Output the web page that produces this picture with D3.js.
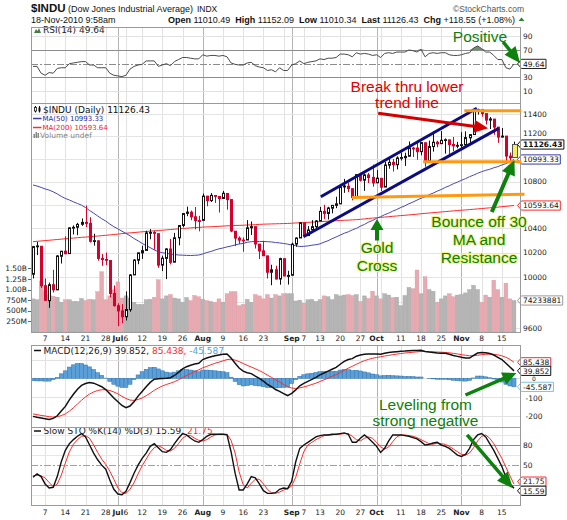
<!DOCTYPE html>
<html>
<head>
<meta charset="utf-8">
<script src="https://d3js.org/d3.v7.min.js"></script>
<style>
  body { margin: 0; background: #fff; }
  svg { display: block; font-family: "DejaVu Sans", Verdana, sans-serif; }
  .grid { shape-rendering: crispEdges; }
  .note { font-family: "Liberation Sans", Arial, sans-serif; font-size: 15.5px; }
</style>
</head>
<body>
<svg id="chart"></svg>
<script>
// ---- data (daily bars, 2 Jun - 18 Nov 2010) ----
const dates = [
  "2010-06-02","2010-06-03","2010-06-04","2010-06-07","2010-06-08","2010-06-09","2010-06-10","2010-06-11","2010-06-14","2010-06-15","2010-06-16","2010-06-17","2010-06-18","2010-06-21","2010-06-22","2010-06-23","2010-06-24","2010-06-25","2010-06-28","2010-06-29","2010-06-30",
  "2010-07-01","2010-07-02","2010-07-06","2010-07-07","2010-07-08","2010-07-09","2010-07-12","2010-07-13","2010-07-14","2010-07-15","2010-07-16","2010-07-19","2010-07-20","2010-07-21","2010-07-22","2010-07-23","2010-07-26","2010-07-27","2010-07-28","2010-07-29","2010-07-30",
  "2010-08-02","2010-08-03","2010-08-04","2010-08-05","2010-08-06","2010-08-09","2010-08-10","2010-08-11","2010-08-12","2010-08-13","2010-08-16","2010-08-17","2010-08-18","2010-08-19","2010-08-20","2010-08-23","2010-08-24","2010-08-25","2010-08-26","2010-08-27","2010-08-30","2010-08-31",
  "2010-09-01","2010-09-02","2010-09-03","2010-09-07","2010-09-08","2010-09-09","2010-09-10","2010-09-13","2010-09-14","2010-09-15","2010-09-16","2010-09-17","2010-09-20","2010-09-21","2010-09-22","2010-09-23","2010-09-24","2010-09-27","2010-09-28","2010-09-29","2010-09-30",
  "2010-10-01","2010-10-04","2010-10-05","2010-10-06","2010-10-07","2010-10-08","2010-10-11","2010-10-12","2010-10-13","2010-10-14","2010-10-15","2010-10-18","2010-10-19","2010-10-20","2010-10-21","2010-10-22","2010-10-25","2010-10-26","2010-10-27","2010-10-28","2010-10-29",
  "2010-11-01","2010-11-02","2010-11-03","2010-11-04","2010-11-05","2010-11-08","2010-11-09","2010-11-10","2010-11-11","2010-11-12","2010-11-15","2010-11-16","2010-11-17","2010-11-18"
];
const opens = [
  10024,10248,10252,9932,9813,9940,9899,10170,10212,10192,10403,10410,10435,10452,10443,10294,10297,10153,10144,10135,9870,
  9773,9733,9687,9743,10019,10138,10198,10218,10363,10366,10356,10098,10153,10230,10122,10322,10425,10527,10537,10498,10466,
  10468,10674,10636,10679,10671,10654,10697,10644,10377,10320,10303,10304,10406,10415,10270,10214,10173,10040,10060,9986,10150,10007,
  10016,10270,10321,10446,10341,10389,10415,10463,10544,10526,10571,10595,10608,10753,10759,10738,10664,10860,10812,10857,10836,
  10789,10828,10752,10943,10968,10947,11006,11009,11022,11094,11095,11063,11142,10979,11108,11147,11134,11163,11168,11127,11113,
  11120,11125,11187,11216,11435,11443,11406,11347,11356,11283,11193,11202,11023,11010.49
];
const highs = [
  10255,10288,10253,9990,9957,10060,10180,10214,10335,10410,10426,10447,10484,10594,10494,10356,10300,10189,10201,10137,9934,
  9793,9786,9887,10025,10146,10199,10256,10381,10395,10382,10358,10175,10236,10313,10363,10428,10526,10584,10551,10581,10506,
  10696,10674,10700,10680,10673,10719,10698,10645,10377,10334,10325,10470,10458,10415,10271,10297,10174,10101,10093,10158,10150,10052,
  10281,10326,10451,10446,10420,10470,10470,10582,10600,10583,10597,10669,10770,10823,10788,10740,10863,10876,10870,10875,10948,
  10900,10829,10973,10999,10998,11021,11054,11053,11154,11105,11142,11149,11142,11161,11245,11160,11247,11181,11169,11194,11150,
  11237,11245,11218,11445,11452,11444,11409,11375,11357,11283,11275,11202,11055,11152.09
];
const lows = [
  9990,10180,9914,9812,9757,9878,9899,10111,10187,10192,10350,10344,10422,10412,10283,10257,10134,10092,10099,9840,9767,
  9614,9636,9658,9726,10019,10105,10148,10218,10310,10224,10076,10050,9985,10104,10122,10260,10410,10503,10469,10392,10376,
  10468,10587,10624,10616,10534,10654,10558,10369,10254,10271,10207,10304,10346,10234,10147,10174,9990,9936,9982,9940,10009,9941,
  10016,10248,10321,10330,10341,10389,10396,10463,10480,10475,10527,10571,10608,10702,10708,10638,10664,10800,10719,10787,10755,
  10789,10718,10752,10912,10887,10906,10984,10936,11022,11015,10991,11030,10929,10979,11063,11102,11134,11045,11027,11066,11093,
  11091,11125,11120,11216,11398,11378,11307,11266,11214,11142,11189,10980,10978,11010.34
];
const closes = [
  10249.54,10255.28,9931.97,9816.49,9939.98,9899.25,10172.53,10211.07,10190.89,10404.77,10409.46,10434.17,10450.64,10442.41,10293.52,10298.44,10152.80,10143.81,10138.52,9870.30,9774.02,
  9732.53,9686.48,9743.62,10018.28,10138.99,10198.03,10216.27,10363.02,10366.72,10359.31,10097.90,10154.43,10229.96,10120.53,10322.30,10424.62,10525.43,10537.69,10497.88,10467.16,10465.94,
  10674.38,10636.38,10680.43,10674.98,10653.56,10698.75,10644.25,10378.83,10319.95,10303.15,10302.01,10405.85,10415.54,10271.21,10213.62,10174.41,10040.45,10060.06,9985.81,10150.65,10009.73,10014.72,
  10269.47,10320.10,10447.93,10340.69,10387.01,10415.24,10462.77,10544.13,10526.49,10572.73,10594.83,10607.85,10753.62,10761.03,10739.31,10662.42,10860.26,10812.04,10858.14,10835.28,10788.05,
  10829.68,10751.27,10944.72,10967.65,10948.58,11006.48,11010.34,11020.40,11096.08,11094.57,11062.78,11143.69,10978.62,11107.97,11146.57,11132.56,11164.05,11169.46,11126.28,11113.95,11118.49,
  11124.62,11188.72,11215.13,11434.84,11444.08,11406.84,11346.75,11357.04,11283.10,11192.58,11201.97,11023.50,11007.88,11126.43
];
// volume in millions of shares
const volumes = [
  780,760,1200,950,860,840,820,700,760,760,720,720,790,740,770,760,950,1420,760,850,1000,
  1180,800,850,800,700,650,650,760,770,820,1230,780,850,880,800,780,700,810,740,860,830,
  770,740,720,700,780,700,900,950,950,620,650,770,700,880,850,780,880,800,880,850,900,900,
  900,730,750,680,760,770,720,760,850,830,760,880,850,870,880,860,880,720,850,790,960,
  850,780,900,870,810,820,620,860,1050,1020,1460,900,1300,1000,960,700,780,850,900,830,870,
  880,920,1000,1100,1000,700,870,820,1220,1000,820,1150,780,742
];
const ma50 = [
  10770,10761,10749,10736,10726,10711,10693,10672,10654,10641,10625,10611,10597,10576,10551,10529,10505,10482,10462,10437,10415,
  10397,10377,10359,10339,10316,10297,10276,10257,10241,10222,10207,10199,10194,10188,10185,10180,10179,10177,10176,10178,10180,
  10189,10201,10209,10221,10231,10238,10247,10254,10263,10271,10276,10285,10290,10292,10291,10292,10290,10288,10283,10280,10275,10270,
  10262,10257,10250,10252,10255,10261,10265,10272,10286,10298,10315,10329,10345,10360,10372,10388,10401,10419,10434,10453,10467,
  10485,10499,10516,10529,10546,10560,10577,10591,10609,10623,10640,10656,10669,10686,10700,10717,10731,10749,10763,10781,10795,
  10811,10825,10842,10856,10872,10886,10898,10907,10920,10930,10945,10957,10973,10993.33
];
const ma200 = [
  10290,10293,10296,10299,10302,10305,10308,10311,10314,10317,10320,10323,10326,10328,10331,10334,10337,10340,10343,10346,10350,
  10353,10357,10360,10363,10366,10369,10372,10375,10378,10380,10383,10385,10388,10391,10394,10397,10400,10402,10405,10407,10409,
  10411,10413,10414,10416,10418,10420,10422,10423,10425,10426,10427,10429,10430,10432,10434,10436,10437,10438,10439,10440,10441,10442,
  10444,10446,10448,10449,10451,10453,10455,10457,10459,10461,10463,10465,10467,10469,10470,10472,10474,10477,10480,10484,10487,
  10490,10493,10496,10499,10502,10505,10508,10511,10514,10517,10520,10524,10527,10530,10533,10536,10539,10542,10545,10548,10551,
  10554,10556,10559,10562,10565,10568,10571,10574,10577,10580,10584,10587,10590,10593.64
];
const rsi14 = [
  46,46,36,33,37,36,43,44,44,50,51,52,53,53,48,48,44,44,44,36,33,
  32,31,33,42,46,48,49,54,54,54,46,48,50,47,53,56,59,59,58,57,57,
  63,61,62,62,61,62,60,51,49,48,48,51,52,47,45,44,40,41,38,44,40,40,
  48,50,54,50,52,53,54,57,56,58,58,59,64,64,63,60,66,64,65,64,62,
  63,59,65,66,65,67,67,67,70,69,67,71,60,65,66,65,66,66,63,62,62,
  63,65,66,73,76,72,67,67,62,56,56,44,42,49.64
];
const macdLine = [
  -203,-208,-212,-216,-220,-214,-200,-175,-150,-115,-85,-58,-38,-28,-23,-26,-35,-45,-60,-82,-105,
  -125,-145,-157,-148,-125,-95,-70,-45,-22,-5,-2,-1,0,3,15,32,50,62,70,76,80,
  100,108,115,120,124,128,130,108,80,55,38,30,25,12,0,-15,-32,-45,-60,-70,-82,-92,
  -80,-62,-40,-27,-16,-6,5,18,28,38,48,58,75,90,100,105,118,124,128,130,130,
  130,128,134,138,140,142,144,145,147,148,148,150,143,140,138,135,134,133,128,122,117,
  112,108,108,122,135,138,136,132,124,112,100,80,60,39.852
];
const macdSignal = [
  -190,-194,-198,-201,-205,-207,-205,-199,-190,-175,-157,-137,-117,-99,-84,-73,-65,-61,-61,-65,-73,
  -83,-96,-108,-116,-118,-113,-105,-93,-79,-64,-52,-41,-33,-26,-18,-8,4,15,26,36,45,
  56,64,72,80,86,93,100,102,97,89,79,69,60,51,41,30,17,5,-8,-20,-33,-45,
  -52,-54,-51,-46,-40,-33,-26,-17,-8,1,11,20,31,43,54,64,75,85,94,101,107,
  111,115,119,122,126,129,132,135,137,139,141,143,143,142,141,140,139,138,136,133,130,
  126,123,120,120,123,126,128,129,128,125,120,112,101,85.438
];
const macdHist = [
  -13,-14,-14,-15,-15,-7,5,24,40,60,72,79,79,71,61,47,30,16,1,-17,-32,
  -42,-49,-49,-32,-7,18,35,48,57,59,50,40,33,29,33,40,46,47,44,40,35,
  44,44,43,40,38,35,30,6,-17,-34,-41,-39,-35,-39,-41,-45,-49,-50,-52,-50,-49,-47,
  -28,-8,11,19,24,27,31,35,36,37,37,38,44,47,46,41,43,39,34,29,23,
  19,13,15,16,14,13,12,10,10,9,7,7,0,-2,-3,-5,-5,-5,-8,-11,-13,
  -14,-15,-12,2,12,12,8,3,-4,-13,-20,-32,-41,-45.587
];
const stoK = [
  32,37,33,22,16,17,33,55,72,82,88,93,97,92,80,68,58,50,44,28,14,
  7,6,11,24,38,50,60,68,78,82,76,70,69,73,82,90,97,95,90,86,84,
  88,93,96,96,96,96,95,70,38,13,13,22,33,31,22,12,8,8,9,14,16,15,
  26,55,75,80,84,88,92,94,95,95,96,96,97,98,96,84,84,90,95,90,84,
  78,69,75,86,95,95,95,94,93,91,89,85,80,81,83,84,80,78,75,70,65,
  63,66,75,88,95,97,92,82,72,60,48,32,22,15.59
];
const stoD = [
  34,35,34,31,24,18,22,35,53,70,81,88,93,94,90,80,69,59,51,41,29,
  16,9,8,14,24,37,49,59,69,76,79,76,72,71,75,82,90,94,94,90,87,
  86,88,92,95,96,96,96,87,68,40,21,16,23,29,29,22,14,9,8,10,13,15,
  19,32,52,70,80,84,88,91,94,95,95,96,96,97,97,93,88,86,90,92,90,
  84,77,74,77,85,92,95,95,94,93,91,88,85,82,81,83,82,81,78,74,70,
  66,65,68,76,86,93,95,90,82,71,60,47,34,21.75
];

// weekly date ticks (month starts are labelled with the month name)
const tickDates = ["2010-06-07","2010-06-14","2010-06-21","2010-06-28","2010-07-01","2010-07-06","2010-07-12","2010-07-19","2010-07-26",
  "2010-08-02","2010-08-09","2010-08-16","2010-08-23","2010-08-30","2010-09-01","2010-09-07","2010-09-13","2010-09-20","2010-09-27",
  "2010-10-01","2010-10-04","2010-10-11","2010-10-18","2010-10-25","2010-11-01","2010-11-08","2010-11-15"];
const tickLabels = ["7","14","21","28","Jul","6","12","19","26","Aug","9","16","23","","Sep","7","13","20","27","Oct","","11","18","25","Nov","8","15"];
const monthLabels = ["Jul","Aug","Sep","Oct","Nov"];

const priceTicks = [9600, 9800, 10000, 10200, 10400, 10600, 10800, 11000, 11200, 11400];
const volTicks = [250, 500, 750, 1000, 1250, 1500];
const volTickLabels = ["250M", "500M", "750M", "1.00B", "1.25B", "1.50B"];
const rsiTicks = [10, 30, 50, 70, 90];
const macdTicks = [-200, -100, 0, 100];
const stoTicks = [20, 50, 80];

const headerQuote = { open: "11010.49", high: "11152.09", low: "11010.34", last: "11126.43", chg: "+118.55 (+1.08%)" };
const lastVolumeLabel = "74233881";

// hand-drawn markup, in data coordinates (bar index, value)
const channelUpper = [[71.2, 10669], [109.8, 11455]];
const channelLower = [[66.9, 10331], [115.2, 11272]];
const orangeLines = [[[106.7, 11432], [120.8, 11432]], [[96.5, 10973], [120.8, 10973]], [[78.9, 10662], [121.6, 10690]]];

class IndexChart {

  constructor(_config) {
    this.config = {
      parentElement: _config.parentElement,
      containerWidth: _config.containerWidth || 567,
      containerHeight: _config.containerHeight || 520,
      left: 31,
      right: 520,
      panels: { rsi: [26.5, 103], price: [103, 332], macd: [345, 427], sto: [427, 505] }
    };
    this.initVis();
  }

  initVis() {
    let vis = this;

    vis.svg = d3.select(vis.config.parentElement)
        .attr('width', vis.config.containerWidth)
        .attr('height', vis.config.containerHeight);

    // one x position per trading day
    vis.xScale = d3.scaleLinear().domain([0, dates.length - 1]).range([33, 514]);

    vis.rsiScale = d3.scaleLinear().domain([30, 70]).range([77.3, 50]);
    vis.priceScale = d3.scaleLog().domain([9600, 11400]).range([328, 114.3]);
    vis.volScale = d3.scaleLinear().domain([0, 1500]).range([332, 268.3]);
    vis.macdScale = d3.scaleLinear().domain([-200, 0]).range([415.8, 378.3]);
    vis.stoScale = d3.scaleLinear().domain([20, 80]).range([485.3, 445]);

    vis.tickIdx = tickDates.map(d => dates.indexOf(d) >= 0 ? dates.indexOf(d) : null);

    const defs = vis.svg.append('defs');
    Object.entries(vis.config.panels).forEach(([k, [t, b]]) => {
      defs.append('clipPath').attr('id', 'clip-' + k)
        .append('rect').attr('x', vis.config.left).attr('y', t)
        .attr('width', vis.config.right - vis.config.left).attr('height', b - t);
    });

    vis.renderVis();
  }

  renderVis() {
    let vis = this;
    vis.drawHeader();
    vis.drawGrid();
    vis.drawRsi();
    vis.drawPrice();
    vis.drawMacd();
    vis.drawSto();
    vis.drawFrames();
    vis.drawDateAxis(341);
    vis.drawDateAxis(515);
    vis.drawNotes();
  }

  hline(g, y, color, dash) {
    let vis = this;
    const yy = Math.round(y) + 0.5;
    g.append('line').attr('class', 'grid')
      .attr('x1', vis.config.left).attr('x2', vis.config.right)
      .attr('y1', yy).attr('y2', yy)
      .attr('stroke', color).attr('stroke-dasharray', dash || null);
  }

  drawGrid() {
    let vis = this;
    const g = vis.svg.append('g');
    Object.values(vis.config.panels).forEach(([t, b]) => {
      tickDates.forEach((d, k) => {
        const xx = Math.round(vis.xScale(vis.tickIdx[k])) + 0.5;
        g.append('line').attr('class', 'grid')
          .attr('x1', xx).attr('x2', xx).attr('y1', t).attr('y2', b)
          .attr('stroke', monthLabels.includes(tickLabels[k]) ? '#b4b4b4' : '#e2e2e2');
      });
    });
    priceTicks.forEach(p => vis.hline(g, vis.priceScale(p), '#e4e4e4'));
    vis.hline(g, vis.rsiScale(10), '#e2e2e2');
    vis.hline(g, vis.rsiScale(90), '#e2e2e2');
    vis.hline(g, vis.rsiScale(70), '#8c8c8c');
    vis.hline(g, vis.rsiScale(30), '#8c8c8c');
    vis.hline(g, vis.rsiScale(50), '#8c8c8c', '7,2,2,2');
    macdTicks.forEach(v => vis.hline(g, vis.macdScale(v), '#e2e2e2'));
    [5, 35, 65, 95].forEach(v => vis.hline(g, vis.stoScale(v), '#e6e6e6'));
    vis.hline(g, vis.stoScale(80), '#8c8c8c');
    vis.hline(g, vis.stoScale(20), '#8c8c8c');
    vis.hline(g, vis.stoScale(50), '#a0a0a0', '7,2,2,2');
  }

  drawFrames() {
    let vis = this;
    const g = vis.svg.append('g');
    Object.values(vis.config.panels).forEach(([t, b]) => {
      g.append('rect').attr('class', 'grid')
        .attr('x', vis.config.left + 0.5).attr('y', Math.round(t) + 0.5)
        .attr('width', vis.config.right - vis.config.left).attr('height', Math.round(b) - Math.round(t))
        .attr('fill', 'none').attr('stroke', '#9a9a9a');
    });
  }

  tag(y, label, color, bold) {
    const grp = this.svg.append('g');
    const path = grp.append('path').attr('fill', '#fff').attr('stroke', color).attr('stroke-width', 1);
    const txt = grp.append('text').attr('x', 523).attr('y', y + 2.8)
      .attr('font-size', 7.5).attr('font-weight', bold ? 'bold' : 'normal').attr('fill', '#111').text(label);
    const w = txt.node().getComputedTextLength();
    const h = 4.6;
    path.attr('d', `M517.5,${y} L521.5,${y - h} H${523 + w + 1.5} V${y + h} H521.5 Z`);
  }

  // right-hand tick labels; labels that would sit under a value tag are left out, as in the reference.
  // A label squeezed between two tags is set smaller in the gap; one next to a single tag is nudged clear.
  axisLabels(values, scale, tagYs, anchor) {
    const g = this.svg.append('g').attr('font-size', 7.5).attr('fill', '#222');
    values.forEach(v => {
      let y = scale(v), size = 7.5;
      const ts = tagYs || [];
      if (ts.some(t => Math.abs(y - t) < 6.5)) return;
      const above = ts.filter(t => t < y && y - t < 11), below = ts.filter(t => t > y && t - y < 11);
      if (above.length && below.length) {
        y = (d3.max(above) + d3.min(below)) / 2;
        size = 6;
      } else {
        above.forEach(t => { y += 11 - (y - t); });
        below.forEach(t => { y -= 11 - (t - y); });
      }
      g.append('text').attr('x', anchor === 'middle' ? 534 : 523).attr('y', y + size * 0.36)
        .attr('font-size', size).attr('text-anchor', anchor || 'start').text(v);
    });
  }

  drawHeader() {
    let vis = this;
    const t1 = vis.svg.append('text').attr('x', 31).attr('y', 11.5)
      .attr('font-family', '"Liberation Sans", Arial, sans-serif').attr('fill', '#111');
    t1.append('tspan').attr('font-weight', 'bold').attr('font-size', 11.5).text('$INDU');
    t1.append('tspan').attr('font-size', 9).text(' (Dow Jones Industrial Average)');
    t1.append('tspan').attr('font-size', 8.5).attr('dx', 4).text('INDX');
    vis.svg.append('text').attr('x', 524).attr('y', 11.5).attr('text-anchor', 'end')
      .attr('font-family', '"Liberation Sans", Arial, sans-serif').attr('font-size', 8.5).attr('fill', '#555')
      .text('\u00a9StockCharts.com');

    vis.svg.append('text').attr('x', 31).attr('y', 22.5)
      .attr('font-family', '"Liberation Sans", Arial, sans-serif').attr('font-size', 9).attr('fill', '#111')
      .text('18-Nov-2010 9:58am');
    const t2 = vis.svg.append('text').attr('x', 515).attr('y', 22.5).attr('text-anchor', 'end')
      .attr('font-family', '"Liberation Sans", Arial, sans-serif').attr('font-size', 9).attr('fill', '#111');
    [['Open', headerQuote.open], ['High', headerQuote.high], ['Low', headerQuote.low],
     ['Last', headerQuote.last], ['Chg', headerQuote.chg]].forEach(([k, v], n) => {
      t2.append('tspan').attr('font-weight', 'bold').attr('dx', n ? 5 : 0).text(k);
      t2.append('tspan').text(' ' + v);
    });
    vis.svg.append('path').attr('d', 'M518.5,21 L521.5,17.5 L524.5,21 Z').attr('fill', '#2a8a2a');
  }

  drawRsi() {
    let vis = this;
    const last = rsi14.length - 1;
    const g = vis.svg.append('g').attr('clip-path', 'url(#clip-rsi)');
    const x = (d, i) => vis.xScale(i);
    g.append('path').datum(rsi14)
      .attr('d', d3.area().x(x).y0(vis.rsiScale(70)).y1(v => vis.rsiScale(Math.max(v, 70))))
      .attr('fill', '#6f8f6f');
    g.append('path').datum(rsi14)
      .attr('d', d3.area().x(x).y0(vis.rsiScale(30)).y1(v => vis.rsiScale(Math.min(v, 30))))
      .attr('fill', '#6f8f6f');
    g.append('path').datum(rsi14)
      .attr('d', d3.line().x(x).y(v => vis.rsiScale(v)))
      .attr('fill', 'none').attr('stroke', '#4a4a4a').attr('stroke-width', 1);

    const tagY = vis.rsiScale(rsi14[last]);
    vis.axisLabels(rsiTicks, vis.rsiScale, [tagY]);
    vis.tag(tagY, String(rsi14[last]), '#222');

    // legend
    vis.svg.append('path').attr('d', 'M34,33 L36,29 L37.5,31 L39,28 L41,33 Z').attr('fill', '#4b7a4b');
    vis.svg.append('text').attr('x', 43).attr('y', 32.8).attr('font-size', 9).attr('fill', '#222')
      .text(`RSI(14) ${rsi14[last]}`);
  }

  drawPrice() {
    let vis = this;
    const last = dates.length - 1;
    const g = vis.svg.append('g').attr('clip-path', 'url(#clip-price)');

    // volume first, so it sits behind the candles
    g.selectAll('.vol').data(volumes).join('rect')
      .attr('class', 'vol')
      .attr('x', (d, i) => vis.xScale(i) - 1.9)
      .attr('width', 3.8)
      .attr('y', d => vis.volScale(d))
      .attr('height', d => vis.volScale(0) - vis.volScale(d))
      .attr('fill', (d, i) => (i > 0 && closes[i] < closes[i - 1]) ? '#e8aab1' : '#b5b5b5')
      .attr('stroke', (d, i) => (i > 0 && closes[i] < closes[i - 1]) ? '#dc98a0' : '#a2a2a2')
      .attr('stroke-width', 0.4);

    const line = arr => d3.line().x((d, i) => vis.xScale(i)).y(d => vis.priceScale(d))(arr);
    g.append('path').attr('d', line(ma200)).attr('fill', 'none').attr('stroke', '#ff2a2a').attr('stroke-width', 1);
    g.append('path').attr('d', line(ma50)).attr('fill', 'none').attr('stroke', '#4848b0').attr('stroke-width', 1);

    const bars = closes.map((c, i) => ({ i, o: opens[i], h: highs[i], l: lows[i], c, prev: i ? closes[i - 1] : opens[i] }));
    const colorOf = d => d.c < d.prev ? '#d5002b' : '#111';
    const cg = g.selectAll('.candle').data(bars).join('g').attr('class', 'candle');
    cg.append('line')
      .attr('x1', d => Math.round(vis.xScale(d.i)) + 0.5).attr('x2', d => Math.round(vis.xScale(d.i)) + 0.5)
      .attr('y1', d => vis.priceScale(d.h)).attr('y2', d => vis.priceScale(d.l))
      .attr('stroke', colorOf).attr('stroke-width', 1);
    cg.append('rect')
      .attr('x', d => Math.round(vis.xScale(d.i)) - (d.i === last ? 2 : 1) + 0.5)
      .attr('width', d => d.i === last ? 5 : 2)
      .attr('y', d => vis.priceScale(Math.max(d.o, d.c)))
      .attr('height', d => Math.max(0.8, vis.priceScale(Math.min(d.o, d.c)) - vis.priceScale(Math.max(d.o, d.c))))
      .attr('fill', d => d.i === last ? '#f6f05a' : (d.c < d.o ? colorOf(d) : '#fff'))
      .attr('stroke', d => d.i === last ? '#555' : colorOf(d))
      .attr('stroke-width', 1);

    // right axis and value tags
    const tagYs = [vis.priceScale(ma50[last]), vis.priceScale(ma200[last]), vis.volScale(volumes[last]), vis.priceScale(closes[last])];
    vis.axisLabels(priceTicks, vis.priceScale, tagYs);
    vis.tag(tagYs[0], ma50[last].toFixed(2), '#3a3aa8');
    vis.tag(tagYs[1], ma200[last].toFixed(2), '#ff2a2a');
    vis.tag(tagYs[2], lastVolumeLabel, '#9a9a9a');
    vis.tag(tagYs[3], closes[last].toFixed(2), '#111', true);

    // volume axis on the left
    const vg = vis.svg.append('g').attr('font-size', 7.5).attr('fill', '#222');
    volTicks.forEach((v, k) => {
      vg.append('text').attr('x', 27).attr('y', vis.volScale(v) + 2.7).attr('text-anchor', 'end').text(volTickLabels[k]);
      vg.append('line').attr('class', 'grid').attr('x1', 27.5).attr('x2', 31)
        .attr('y1', Math.round(vis.volScale(v)) + 0.5).attr('y2', Math.round(vis.volScale(v)) + 0.5).attr('stroke', '#666');
    });

    // legend
    const lg = vis.svg.append('g');
    lg.append('line').attr('x1', 35.5).attr('x2', 35.5).attr('y1', 106).attr('y2', 112.5).attr('stroke', '#111');
    lg.append('rect').attr('x', 34.5).attr('y', 107.5).attr('width', 2).attr('height', 3.5).attr('fill', '#fff').attr('stroke', '#111').attr('stroke-width', 0.8);
    lg.append('line').attr('x1', 39.5).attr('x2', 39.5).attr('y1', 106).attr('y2', 112.5).attr('stroke', '#111');
    lg.append('rect').attr('x', 38.5).attr('y', 107.5).attr('width', 2).attr('height', 4).attr('fill', '#111');
    lg.append('text').attr('x', 43).attr('y', 112.6).attr('font-size', 9).attr('fill', '#111')
      .text(`$INDU (Daily) ${closes[last].toFixed(2)}`);
    lg.append('line').attr('x1', 33).attr('x2', 41.5).attr('y1', 118.5).attr('y2', 118.5).attr('stroke', '#3a3aa8').attr('stroke-width', 1.5);
    lg.append('text').attr('x', 42.5).attr('y', 121).attr('font-size', 7).attr('fill', '#2a2aa0')
      .text(`MA(50) ${ma50[last].toFixed(2)}`);
    lg.append('line').attr('x1', 33).attr('x2', 41.5).attr('y1', 127.5).attr('y2', 127.5).attr('stroke', '#ff2a2a').attr('stroke-width', 1.5);
    lg.append('text').attr('x', 42.5).attr('y', 130).attr('font-size', 7).attr('fill', '#ee2222')
      .text(`MA(200) ${ma200[last].toFixed(2)}`);
    [[33.5, 4], [35.5, 6], [37.5, 5]].forEach(([bx, bh]) => {
      lg.append('rect').attr('x', bx).attr('y', 138 - bh).attr('width', 1.5).attr('height', bh).attr('fill', '#888');
    });
    lg.append('text').attr('x', 40).attr('y', 138.3).attr('font-size', 7.5).attr('fill', '#888').text('Volume undef');
  }

  drawMacd() {
    let vis = this;
    const last = dates.length - 1;
    const g = vis.svg.append('g').attr('clip-path', 'url(#clip-macd)');
    const zero = vis.macdScale(0);
    g.selectAll('.hist').data(macdHist).join('rect')
      .attr('class', 'hist')
      .attr('x', (d, i) => vis.xScale(i) - 2)
      .attr('width', 4)
      .attr('y', d => Math.min(zero, vis.macdScale(d)))
      .attr('height', d => Math.abs(vis.macdScale(d) - zero))
      .attr('fill', '#5a9fd8').attr('stroke', '#2f73b0').attr('stroke-width', 0.5);
    const line = arr => d3.line().x((d, i) => vis.xScale(i)).y(d => vis.macdScale(d))(arr);
    g.append('path').attr('d', line(macdSignal)).attr('fill', 'none').attr('stroke', '#ff2a2a').attr('stroke-width', 1);
    g.append('path').attr('d', line(macdLine)).attr('fill', 'none').attr('stroke', '#111').attr('stroke-width', 1.5);

    const tagYs = [vis.macdScale(macdSignal[last]), vis.macdScale(macdLine[last]), vis.macdScale(macdHist[last])];
    vis.axisLabels(macdTicks, vis.macdScale, tagYs, 'middle');
    vis.tag(tagYs[0], macdSignal[last].toFixed(3), '#ff2a2a');
    vis.tag(tagYs[1], macdLine[last].toFixed(3), '#111');
    vis.tag(tagYs[2], macdHist[last].toFixed(3), '#7cc0ea');

    vis.svg.append('line').attr('x1', 34).attr('x2', 41).attr('y1', 350.5).attr('y2', 350.5).attr('stroke', '#111').attr('stroke-width', 1.5);
    const t = vis.svg.append('text').attr('x', 43.5).attr('y', 353.5).attr('font-size', 9).attr('fill', '#222');
    t.append('tspan').text(`MACD(12,26,9) ${macdLine[last].toFixed(3)}, `);
    t.append('tspan').attr('fill', '#ff2a2a').text(`${macdSignal[last].toFixed(3)}, `);
    t.append('tspan').attr('fill', '#4fa3dc').text(macdHist[last].toFixed(3));
  }

  drawSto() {
    let vis = this;
    const last = dates.length - 1;
    const g = vis.svg.append('g').attr('clip-path', 'url(#clip-sto)');
    const line = arr => d3.line().x((d, i) => vis.xScale(i)).y(d => vis.stoScale(d))(arr);
    g.append('path').attr('d', line(stoD)).attr('fill', 'none').attr('stroke', '#ff2a2a').attr('stroke-width', 1);
    g.append('path').attr('d', line(stoK)).attr('fill', 'none').attr('stroke', '#111').attr('stroke-width', 1.4);

    // the two tags nearly coincide; nudge them apart a little so both stay readable
    const yD = vis.stoScale(stoD[last]) - 2.5, yK = vis.stoScale(stoK[last]) + 2.5;
    vis.axisLabels(stoTicks, vis.stoScale, [yD, yK]);
    vis.tag(yD, String(stoD[last]), '#ff2a2a');
    vis.tag(yK, String(stoK[last]), '#111');

    vis.svg.append('line').attr('x1', 34).attr('x2', 41).attr('y1', 431).attr('y2', 431).attr('stroke', '#111').attr('stroke-width', 1.5);
    const t = vis.svg.append('text').attr('x', 43.5).attr('y', 434).attr('font-size', 9).attr('fill', '#222');
    t.append('tspan').text(`Slow STO %K(14) %D(3) ${stoK[last]}, `);
    t.append('tspan').attr('fill', '#ff2a2a').text(stoD[last]);
  }

  drawDateAxis(y) {
    let vis = this;
    const g = vis.svg.append('g').attr('font-size', 7.5).attr('fill', '#222').attr('text-anchor', 'middle');
    tickDates.forEach((d, k) => {
      if (!tickLabels[k]) return;
      g.append('text').attr('x', vis.xScale(vis.tickIdx[k])).attr('y', y)
        .attr('font-weight', monthLabels.includes(tickLabels[k]) ? 'bold' : 'normal')
        .text(tickLabels[k]);
    });
  }

  arrow(x1, y1, x2, y2, color, width, headLen, headW) {
    const dx = x2 - x1, dy = y2 - y1, len = Math.hypot(dx, dy);
    const ux = dx / len, uy = dy / len;
    const bx = x2 - ux * headLen, by = y2 - uy * headLen;
    const g = this.svg.append('g');
    g.append('line').attr('x1', x1).attr('y1', y1).attr('x2', bx + ux).attr('y2', by + uy)
      .attr('stroke', color).attr('stroke-width', width);
    g.append('path')
      .attr('d', `M${x2},${y2} L${bx - uy * headW / 2},${by + ux * headW / 2} L${bx + uy * headW / 2},${by - ux * headW / 2} Z`)
      .attr('fill', color);
  }

  drawNotes() {
    let vis = this;
    const px = ([i, v]) => [vis.xScale(i), vis.priceScale(v)];
    const seg = (pts, color, w) => {
      const [a, b] = pts.map(px);
      vis.svg.append('line').attr('x1', a[0]).attr('y1', a[1]).attr('x2', b[0]).attr('y2', b[1])
        .attr('stroke', color).attr('stroke-width', w);
    };
    seg(channelUpper, '#0c0c82', 3);
    seg(channelLower, '#0c0c82', 3);
    orangeLines.forEach(p => seg(p, '#ff9a10', 3));

    const green = '#0d800d';
    // price panel arrows
    let a = px([85.4, 11409]), b = px([112.6, 11273]);
    vis.arrow(a[0], a[1], b[0], b[1], '#d40000', 3, 14, 13);
    a = px([85.1, 10300]); b = px([85.1, 10479]);
    vis.arrow(a[0], a[1], b[0], b[1], green, 4, 11, 13);
    a = px([113.5, 10538]); b = px([119.1, 10989]);
    vis.arrow(a[0], a[1], b[0], b[1], green, 4, 15, 14);
    // RSI arrow
    vis.arrow(vis.xScale(116.3), vis.rsiScale(82), vis.xScale(120.5), vis.rsiScale(51), green, 3.5, 16, 14);
    // MACD and STO arrows
    vis.arrow(vis.xScale(107), vis.macdScale(-89), vis.xScale(119.6), vis.macdScale(28), green, 3.5, 14, 13);
    vis.arrow(vis.xScale(107.4), vis.stoScale(95), vis.xScale(118.7), vis.stoScale(15.5), green, 3.5, 16, 14);

    const note = (lines, cx, y0, dy, color, halo) => {
      lines.forEach((s, k) => {
        const t = vis.svg.append('text').attr('class', 'note').attr('x', cx).attr('y', y0 + k * dy)
          .attr('text-anchor', 'middle').attr('fill', color).text(s);
        if (halo) t.attr('stroke', '#f4f488').attr('stroke-width', 2).attr('paint-order', 'stroke').attr('stroke-linejoin', 'round');
      });
    };
    note(['Break thru lower', 'trend line'], 407, 91.5, 16.5, '#e00000', false);
    note(['Positive'], 480, 41.5, 0, green, false);
    note(['Gold', 'Cross'], 377, 252.5, 18.5, green, true);
    note(['Bounce off 30', 'MA and', 'Resistance'], 479, 226.5, 18.2, green, true);
    note(['Leveling from', 'strong negative'], 425.5, 409.5, 16.8, green, false);
  }
}

new IndexChart({ parentElement: '#chart' });
</script>
</body>
</html>
